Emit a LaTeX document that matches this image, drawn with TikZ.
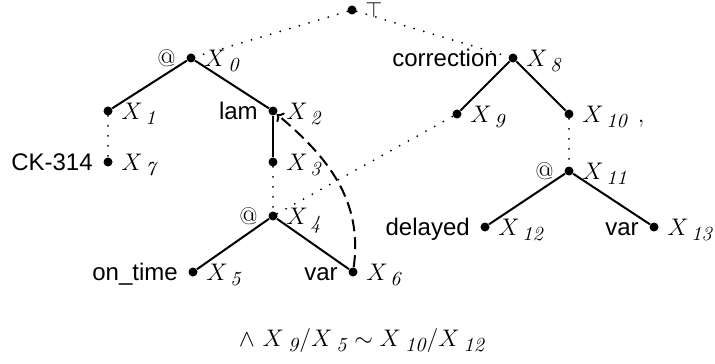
\documentclass[tikz,border=0pt]{standalone}
\usepackage{fontspec}
\setsansfont{Liberation Sans}
\usepackage{tikz}
\usetikzlibrary{arrows.meta}
\DeclareMathSizes{12}{12}{10}{7}
\newcommand{\xlab}[1]{$X\mkern2mu{}_{\mathit{#1}}$}
\newcommand{\treesize}{\fontsize{12}{14}\selectfont}
\tikzset{
  treedot/.style={circle,fill=black,inner sep=0pt,minimum size=4.5pt},
  treelbl/.style={inner sep=0pt,label distance=5pt,text height=8.5pt,text depth=0pt,font=\treesize\sffamily},
  xlbl/.style={treelbl,label distance=4pt},
  treeedge/.style={draw=black,line width=1pt},
  treelink/.style={draw=black,line width=1pt,line cap=round,dash pattern=on 0pt off 5pt},
  backlink/.style={draw=black,line width=1pt,dash pattern=on 6pt off 3pt,-{To[length=3pt,width=6pt]}}
}
\begin{document}
\begin{tikzpicture}[x=0.5pt,y=0.5pt,font=\treesize]
\useasboundingbox (0,0) rectangle (715,-363);
% left tree
\node[treedot,label={[xlbl,text height=7.6pt,font=\fontsize{10.95}{13}\selectfont]right:$\top$}] (top) at (352,-10) {};
\node[treedot,label={[treelbl]left:\textrm{@}},label={[xlbl]right:\xlab{0}}] (x0) at (191,-58) {};
\node[treedot,label={[xlbl]right:\xlab{1}}] (x1) at (108,-111) {};
\node[treedot,label={[treelbl]left:lam},label={[xlbl]right:\xlab{2}}] (x2) at (273,-111) {};
\node[treedot,label={[treelbl]left:CK-314},label={[xlbl]right:\xlab{7}}] (x7) at (108,-162) {};
\node[treedot,label={[xlbl]right:\xlab{3}}] (x3) at (273,-162) {};
\node[treedot,label={[treelbl]left:\textrm{@}},label={[xlbl]right:\xlab{4}}] (x4) at (273,-216) {};
\node[treedot,label={[treelbl]left:on\_time},label={[xlbl]right:\xlab{5}}] (x5) at (193,-272) {};
\node[treedot,label={[treelbl]left:var},label={[xlbl]right:\xlab{6}}] (x6) at (353,-272) {};
% right tree
\node[treedot,label={[treelbl]left:correction},label={[xlbl]right:\xlab{8}}] (x8) at (513,-58) {};
\node[treedot,label={[xlbl]right:\xlab{9}}] (x9) at (457,-114) {};
\node[treedot,label={[xlbl]right:{\xlab{10}\hspace{5pt}$,$}}] (x10) at (569,-114) {};
\node[treedot,label={[treelbl]left:\textrm{@}},label={[xlbl]right:\xlab{11}}] (x11) at (569,-171) {};
\node[treedot,label={[treelbl]left:delayed},label={[xlbl]right:\xlab{12}}] (x12) at (485,-227) {};
\node[treedot,label={[treelbl]left:var},label={[xlbl]right:\xlab{13}}] (x13) at (654,-227) {};
% edges
\foreach \a/\b in {x0/x1,x0/x2,x2/x3,x4/x5,x4/x6,x8/x9,x8/x10,x11/x12,x11/x13}{\draw[treeedge] (\a) -- (\b);}
\foreach \a/\b in {top/x0,top/x8,x1/x7,x3/x4,x4/x9,x10/x11}{\draw[treelink] (\a) -- (\b);}
\draw[backlink] (x6) to[out=82,in=-40] (x2);
\node (cond) at (362,-340) {$\wedge\ X\,{}_{\mathit{9}}/X\,{}_{\mathit{5}}\sim X\,{}_{\mathit{10}}/X\,{}_{\mathit{12}}$};
\end{tikzpicture}
\end{document}
